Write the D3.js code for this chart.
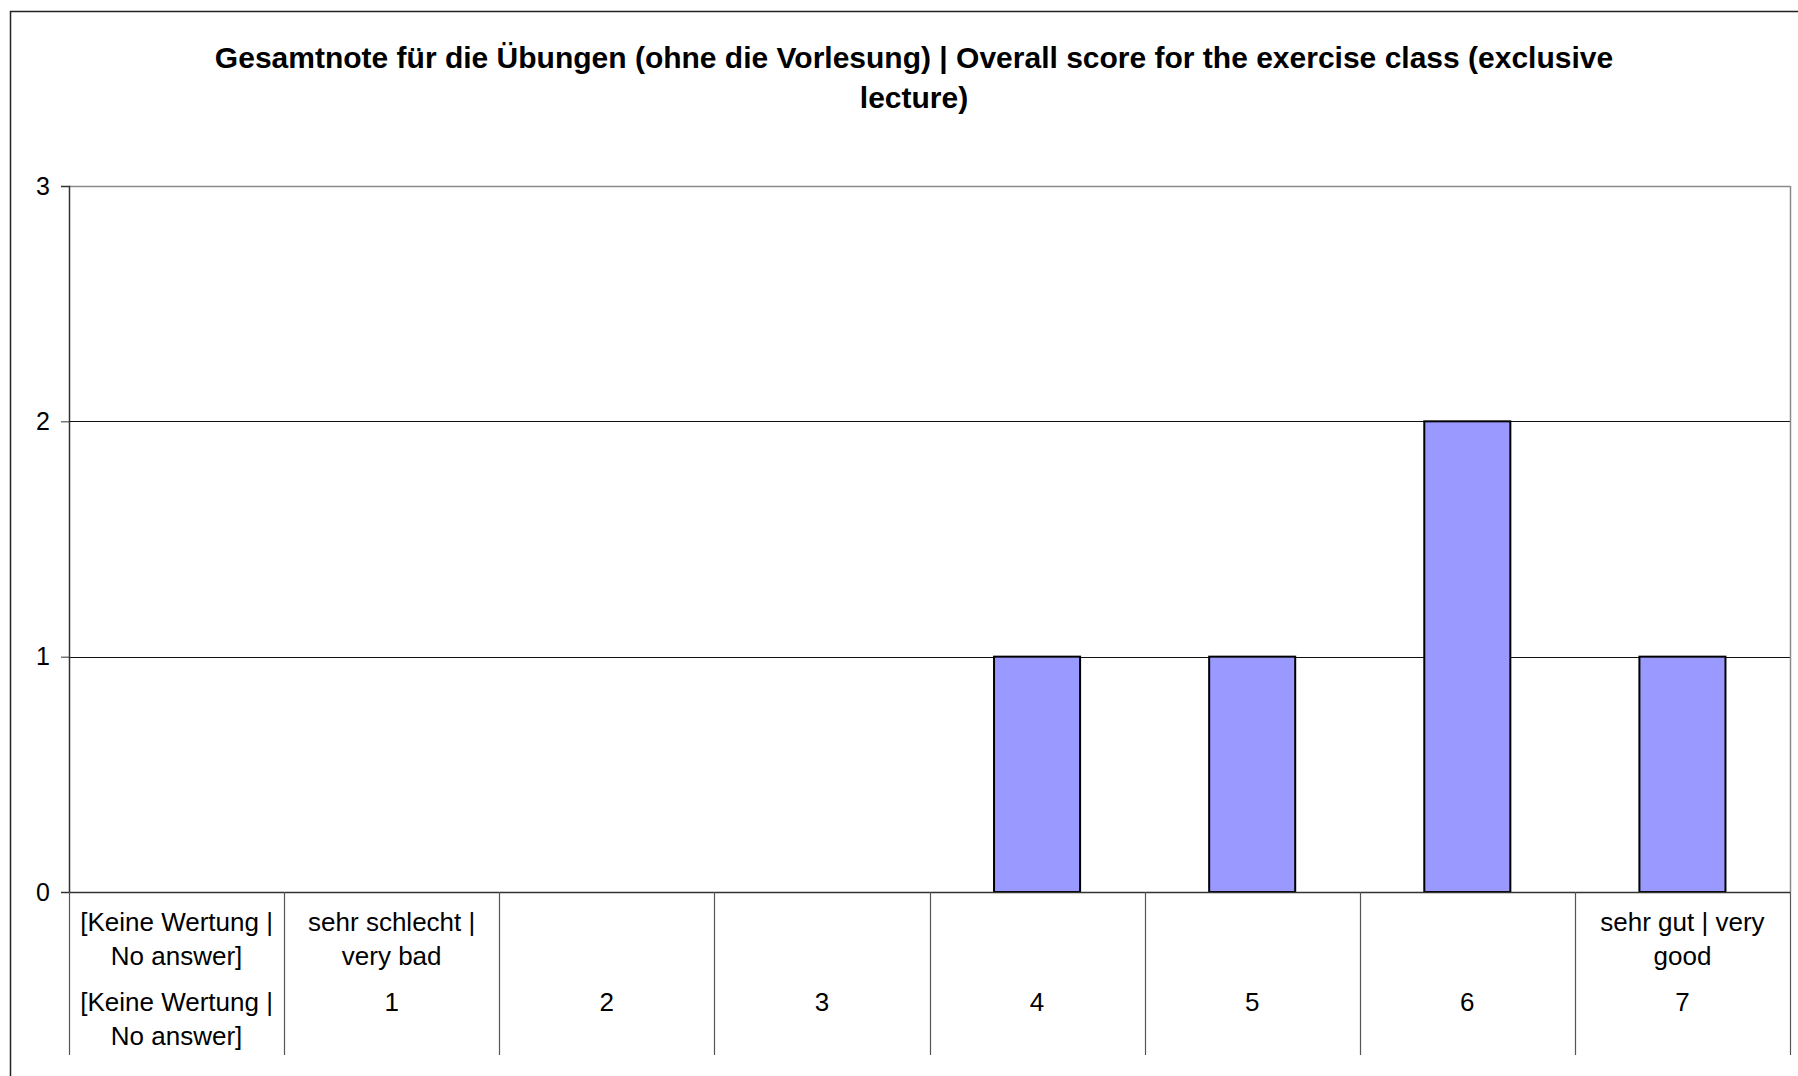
<!DOCTYPE html>
<html>
<head>
<meta charset="utf-8">
<script src="https://cdn.jsdelivr.net/npm/d3@7"></script>
<style>
  html, body { margin: 0; padding: 0; background: #fff; }
  svg { display: block; font-family: "Liberation Sans", Arial, sans-serif; }
</style>
</head>
<body>
<svg id="chart" width="1798" height="1076"></svg>
<script>
// data
var titleLines = ["Gesamtnote für die Übungen (ohne die Vorlesung) | Overall score for the exercise class (exclusive", "lecture)"];
var categories = ["0", "1", "2", "3", "4", "5", "6", "7"];
var labelsTop = ["[Keine Wertung | No answer]", "sehr schlecht | very bad", "", "", "", "", "", "sehr gut | very good"];
var labelsBottom = ["[Keine Wertung | No answer]", "1", "2", "3", "4", "5", "6", "7"];
var counts = [0, 0, 0, 0, 1, 1, 2, 1];
var yTicks = [0, 1, 2, 3];

var plotLeft = 69, plotRight = 1790, plotTop = 186, plotBottom = 892;

var svg = d3.select("#chart");

// outer frame
svg.append("rect")
    .attr("x", 10.5).attr("y", 11.5)
    .attr("width", 1830).attr("height", 1100)
    .attr("fill", "none")
    .attr("stroke", "#222")
    .attr("stroke-width", 1.5);

// title
svg.append("text")
    .attr("text-anchor", "middle")
    .attr("font-weight", "bold")
    .attr("font-size", 30)
    .selectAll("tspan")
    .data(titleLines)
    .enter()
    .append("tspan")
        .attr("x", 914)
        .attr("y", function(d, i) { return 57 + i * 40; })
        .attr("dominant-baseline", "central")
        .text(function(d) { return d; });

var x = d3.scaleBand()
    .domain(categories)
    .range([plotLeft, plotRight])
    .padding(0);

var y = d3.scaleLinear()
    .domain([0, 3])
    .range([plotBottom, plotTop]);

// gridlines
svg.append("g")
    .selectAll("line")
    .data(yTicks.filter(function(d) { return d > 0; }))
    .enter()
    .append("line")
        .attr("x1", plotLeft).attr("x2", plotRight)
        .attr("y1", function(d) { return Math.round(y(d)) + 0.5; })
        .attr("y2", function(d) { return Math.round(y(d)) + 0.5; })
        .attr("stroke", function(d) { return d === 3 ? "#8a8a8a" : "#111"; })
        .attr("stroke-width", function(d) { return d === 3 ? 1.5 : 1; });

// right border of plot
svg.append("line")
    .attr("x1", plotRight + 0.5).attr("x2", plotRight + 0.5)
    .attr("y1", plotTop).attr("y2", plotBottom)
    .attr("stroke", "#8a8a8a")
    .attr("stroke-width", 1.5);

// bars
var barW = x.bandwidth() * 0.4;
svg.append("g")
    .selectAll("rect")
    .data(counts.map(function(v, i) { return { cat: categories[i], value: v }; })
        .filter(function(d) { return d.value > 0; }))
    .enter()
    .append("rect")
        .attr("x", function(d) { return x(d.cat) + (x.bandwidth() - barW) / 2; })
        .attr("y", function(d) { return y(d.value); })
        .attr("width", barW)
        .attr("height", function(d) { return y(0) - y(d.value); })
        .attr("fill", "#9999ff")
        .attr("stroke", "#000")
        .attr("stroke-width", 2);

// y axis
var yAxis = svg.append("g")
    .attr("transform", "translate(" + plotLeft + ",0)")
    .call(d3.axisLeft(y).tickValues(yTicks).tickFormat(d3.format("d")).tickSize(8).tickPadding(11));
yAxis.select(".domain").attr("stroke", "#333").attr("stroke-width", 1.5);
yAxis.selectAll(".tick line").attr("stroke", "#333");
yAxis.selectAll(".tick text")
    .attr("font-size", 25)
    .attr("fill", "#000")
    .attr("font-family", "Liberation Sans, Arial, sans-serif");

// x axis line
svg.append("line")
    .attr("x1", plotLeft).attr("x2", plotRight)
    .attr("y1", plotBottom + 0.5).attr("y2", plotBottom + 0.5)
    .attr("stroke", "#333")
    .attr("stroke-width", 1.5);

// category separators below axis
var bounds = categories.map(function(c) { return x(c); }).concat([plotRight]);
svg.append("g")
    .selectAll("line")
    .data(bounds)
    .enter()
    .append("line")
        .attr("x1", function(d) { return Math.round(d) + 0.5; })
        .attr("x2", function(d) { return Math.round(d) + 0.5; })
        .attr("y1", plotBottom).attr("y2", 1055)
        .attr("stroke", "#555")
        .attr("stroke-width", 1.2);

// wrap labels to the width of a category
function wrapLines(text, maxW, ctx) {
    var words = text.split(" "), lines = [], cur = "";
    words.forEach(function(w) {
        var t = cur ? cur + " " + w : w;
        if (ctx.measureText(t).width > maxW && cur) {
            lines.push(cur);
            cur = w;
        } else {
            cur = t;
        }
    });
    if (cur) lines.push(cur);
    return lines;
}
var canvas = document.createElement("canvas");
var ctx = canvas.getContext("2d");
ctx.font = "26px 'Liberation Sans', Arial, sans-serif";

function drawRow(labels, y0) {
    var g = svg.append("g")
        .attr("font-size", 26)
        .attr("text-anchor", "middle")
        .attr("fill", "#000");
    labels.forEach(function(lab, i) {
        if (!lab) return;
        var lines = wrapLines(lab, 200, ctx);
        var t = g.append("text");
        lines.forEach(function(l, j) {
            t.append("tspan")
                .attr("x", x(categories[i]) + x.bandwidth() / 2)
                .attr("y", y0 + j * 34)
                .attr("dominant-baseline", "central")
                .text(l);
        });
    });
}
drawRow(labelsTop, 922);
drawRow(labelsBottom, 1002);
</script>
</body>
</html>
